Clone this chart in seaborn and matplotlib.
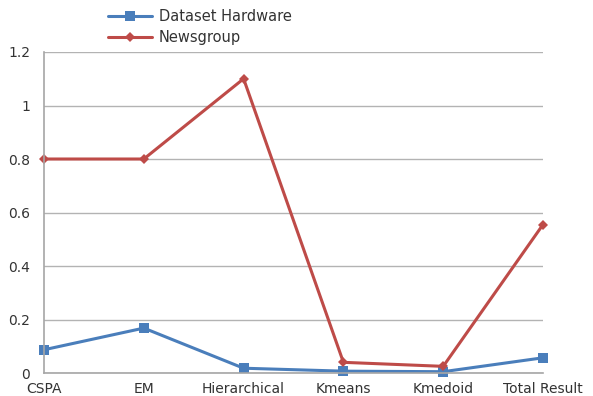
import matplotlib
matplotlib.use("Agg")
import matplotlib.pyplot as plt
import seaborn as sns
import pandas as pd
from matplotlib.lines import Line2D

categories = ["CSPA", "EM", "Hierarchical", "Kmeans", "Kmedoid", "Total Result"]
hardware = [0.087, 0.168, 0.018, 0.007, 0.005, 0.057]
newsgroup = [0.80, 0.80, 1.10, 0.040, 0.025, 0.555]
yticks = [0, 0.2, 0.4, 0.6, 0.8, 1, 1.2]
ytick_labels = ["0", "0.2", "0.4", "0.6", "0.8", "1", "1.2"]

df = pd.DataFrame({
    "category": categories * 2,
    "pos": list(range(len(categories))) * 2,
    "value": hardware + newsgroup,
    "series": ["Dataset Hardware"] * len(categories) + ["Newsgroup"] * len(categories),
})

sns.set_style("white")
plt.rcParams["font.family"] = ["DejaVu Sans"]

fig = plt.figure(figsize=(5.93, 3.96), dpi=100)
ax = fig.add_axes([0.0742, 0.058, 0.8415, 0.8107])

palette = {"Dataset Hardware": "#4a7ebb", "Newsgroup": "#be4b48"}
markers = {"Dataset Hardware": "s", "Newsgroup": "D"}
sns.lineplot(data=df, x="pos", y="value", hue="series", style="series",
             palette=palette, markers=markers, dashes=False, linewidth=2.2,
             markersize=7.5, markeredgewidth=0, ax=ax, legend=False)
for line in ax.get_lines():
    line.set_clip_on(False)
    if line.get_marker() == "D":
        line.set_markersize(5.5)

ax.set_xlim(0, len(categories) - 1)
ax.set_ylim(0, 1.2)
ax.set_yticks(yticks)
ax.set_yticklabels(ytick_labels)
ax.set_xticks(range(len(categories)))
ax.set_xticklabels(categories)
ax.set_xlabel("")
ax.set_ylabel("")
ax.grid(axis="y", color="#b3b3b3", linewidth=1)
ax.set_axisbelow(True)
for s in ["top", "right"]:
    ax.spines[s].set_visible(False)
for s in ["left", "bottom"]:
    ax.spines[s].set_color("#a6a6a6")
    ax.spines[s].set_linewidth(1.2)
ax.tick_params(axis="both", length=4, width=1, color="#a6a6a6",
               labelsize=10, labelcolor="#333333")
ax.tick_params(axis="x", pad=2.5)
ax.tick_params(axis="y", pad=6)

handles = [
    Line2D([], [], color=palette["Dataset Hardware"], marker="s", markersize=7.5,
           linewidth=2.2, markeredgewidth=0),
    Line2D([], [], color=palette["Newsgroup"], marker="D", markersize=5.5,
           linewidth=2.2, markeredgewidth=0),
]
fig.legend(handles, ["Dataset Hardware", "Newsgroup"], loc="upper left",
           bbox_to_anchor=(0.16, 1.01), frameon=False, fontsize=10.5,
           handlelength=3.0, labelspacing=0.4, handletextpad=0.5,
           labelcolor="#333333")

fig.savefig("out.png", dpi=100)
